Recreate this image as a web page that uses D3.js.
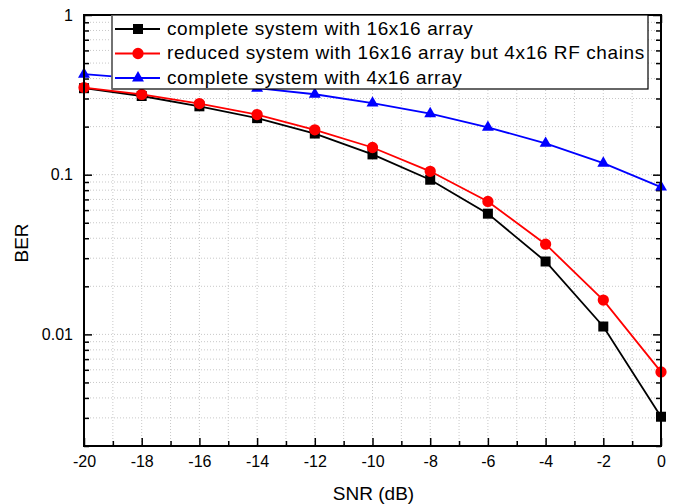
<!DOCTYPE html>
<html>
<head>
<meta charset="utf-8">
<script src="https://cdn.jsdelivr.net/npm/d3@7"></script>
<style>
  body { margin: 0; background: #fff; }
  text { font-family: "Liberation Sans", Arial, sans-serif; }
</style>
</head>
<body>
<svg id="chart"></svg>
<script>
const snr = [-20, -18, -16, -14, -12, -10, -8, -6, -4, -2, 0];
const berComplete16 = [0.348, 0.311, 0.268, 0.226, 0.181, 0.134, 0.093, 0.057, 0.0286, 0.0112, 0.00305];
const berReduced = [0.351, 0.318, 0.279, 0.238, 0.191, 0.148, 0.105, 0.068, 0.0367, 0.0164, 0.00582];
const berComplete4 = [0.426, 0.40, 0.375, 0.348, 0.319, 0.281, 0.241, 0.198, 0.157, 0.118, 0.0836];
const xTicks = [-20, -18, -16, -14, -12, -10, -8, -6, -4, -2, 0];
const yTicks = [1, 0.1, 0.01];
const yTickLabels = ["1", "0.1", "0.01"];
const seriesNames = [
    "complete system with 16x16 array",
    "reduced system with 16x16 array but 4x16 RF chains",
    "complete system with 4x16 array"
];

const series = [
    { name: seriesNames[0], values: berComplete16, color: "#000000", marker: "square" },
    { name: seriesNames[1], values: berReduced, color: "#ff0000", marker: "circle" },
    { name: seriesNames[2], values: berComplete4, color: "#0000ff", marker: "triangle" }
];

const W = 679, H = 504;
const margin = { top: 15, right: 18, bottom: 58, left: 84 },
    width = W - margin.left - margin.right,
    height = H - margin.top - margin.bottom;

const svg = d3.select("#chart")
    .attr("width", W)
    .attr("height", H)
    .append("g")
    .attr("transform", `translate(${margin.left},${margin.top})`);

const xScale = d3.scaleLinear().domain([-20, 0]).range([0, width]);
const yScale = d3.scaleLog().domain([0.002, 1]).range([height, 0]);

// minor positions
const xMinor = d3.range(-19, 0, 2);
const yMinor = [];
[0.001, 0.01, 0.1].forEach(dec => {
    for (let k = 2; k <= 9; k++) {
        const v = dec * k;
        if (v >= 0.002 && v < 1) yMinor.push(v);
    }
});

// grid
const grid = svg.append("g").attr("class", "grid")
    .attr("stroke", "#c8c8c8")
    .attr("stroke-width", 1)
    .attr("stroke-dasharray", "1,2");
grid.selectAll(".gx")
    .data(xTicks.concat(xMinor).filter(d => d > -20 && d < 0))
    .enter().append("line")
    .attr("x1", d => xScale(d)).attr("x2", d => xScale(d))
    .attr("y1", 0).attr("y2", height);
grid.selectAll(".gy")
    .data(yTicks.concat(yMinor).filter(d => d < 1 && d > 0.002))
    .enter().append("line")
    .attr("y1", d => yScale(d)).attr("y2", d => yScale(d))
    .attr("x1", 0).attr("x2", width);

// axes with inward ticks
function styleAxis(g) {
    g.select(".domain").remove();
    g.selectAll(".tick line").attr("stroke", "#000").attr("stroke-width", 1.5);
    g.selectAll(".tick text")
        .attr("fill", "#000")
        .attr("font-family", "Liberation Sans, Arial, sans-serif")
        .attr("font-size", 16);
}

const xAxis = svg.append("g")
    .attr("transform", `translate(0,${height})`)
    .call(d3.axisBottom(xScale).tickValues(xTicks).tickSize(-8).tickPadding(10).tickFormat(d3.format("d")))
    .call(styleAxis);
xAxis.selectAll(".tick text").text(d => String(d));

svg.append("g")
    .attr("transform", `translate(0,${height})`)
    .call(d3.axisBottom(xScale).tickValues(xMinor).tickSize(-5).tickFormat(""))
    .call(styleAxis);

svg.append("g")
    .call(d3.axisTop(xScale).tickValues(xTicks).tickSize(-8).tickFormat(""))
    .call(styleAxis);
svg.append("g")
    .call(d3.axisTop(xScale).tickValues(xMinor).tickSize(-5).tickFormat(""))
    .call(styleAxis);

svg.append("g")
    .call(d3.axisLeft(yScale).tickValues(yTicks).tickSize(-8).tickPadding(11)
        .tickFormat((d, i) => yTickLabels[i]))
    .call(styleAxis);
svg.append("g")
    .call(d3.axisLeft(yScale).tickValues(yMinor).tickSize(-5).tickFormat(""))
    .call(styleAxis);
svg.append("g")
    .attr("transform", `translate(${width},0)`)
    .call(d3.axisRight(yScale).tickValues(yTicks).tickSize(-8).tickFormat(""))
    .call(styleAxis);
svg.append("g")
    .attr("transform", `translate(${width},0)`)
    .call(d3.axisRight(yScale).tickValues(yMinor).tickSize(-5).tickFormat(""))
    .call(styleAxis);

// lines and markers
const line = d3.line()
    .x((d, i) => xScale(snr[i]))
    .y(d => yScale(d));

const symbolOf = {
    square: d3.symbol().type(d3.symbolSquare).size(100),
    circle: d3.symbol().type(d3.symbolCircle).size(100),
    triangle: d3.symbol().type(d3.symbolTriangle).size(62)
};

series.forEach(s => {
    svg.append("path")
        .datum(s.values)
        .attr("fill", "none")
        .attr("stroke", s.color)
        .attr("stroke-width", 1.8)
        .attr("d", line);
});

series.forEach(s => {
    svg.selectAll(null)
        .data(s.values)
        .enter().append("path")
        .attr("d", symbolOf[s.marker])
        .attr("transform", (d, i) => `translate(${xScale(snr[i])},${yScale(d)})`)
        .attr("fill", s.color);
});

// frame
svg.append("rect")
    .attr("width", width).attr("height", height)
    .attr("fill", "none").attr("stroke", "#000").attr("stroke-width", 2);

// legend
const lgX = 28, lgY = 0, lgW = 536, lgH = 74;
const legend = svg.append("g").attr("transform", `translate(${lgX},${lgY})`);
legend.append("rect")
    .attr("width", lgW).attr("height", lgH)
    .attr("fill", "#fff").attr("stroke", "#000").attr("stroke-width", 1.2);
legend.append("line")
    .attr("x1", 0).attr("x2", 0).attr("y1", 0).attr("y2", lgH)
    .attr("stroke", "#777").attr("stroke-width", 1.5);

series.forEach((s, i) => {
    const row = legend.append("g").attr("transform", `translate(0,${14 + i * 24.5})`);
    row.append("line")
        .attr("x1", 3).attr("x2", 48).attr("y1", 0).attr("y2", 0)
        .attr("stroke", s.color).attr("stroke-width", 1.8);
    row.append("path")
        .attr("d", symbolOf[s.marker])
        .attr("transform", "translate(26,0)")
        .attr("fill", s.color);
    row.append("text")
        .attr("x", 55).attr("y", 5.5)
        .attr("font-size", 19)
        .attr("letter-spacing", 0.6)
        .text(s.name);
});

// axis titles
svg.append("text")
    .attr("x", width / 2 + 1).attr("y", height + 54)
    .attr("text-anchor", "middle")
    .attr("font-size", 19)
    .text("SNR (dB)");

svg.append("text")
    .attr("transform", `translate(${-56.5},${228}) rotate(-90)`)
    .attr("text-anchor", "middle")
    .attr("font-size", 19)
    .text("BER");
</script>
</body>
</html>
